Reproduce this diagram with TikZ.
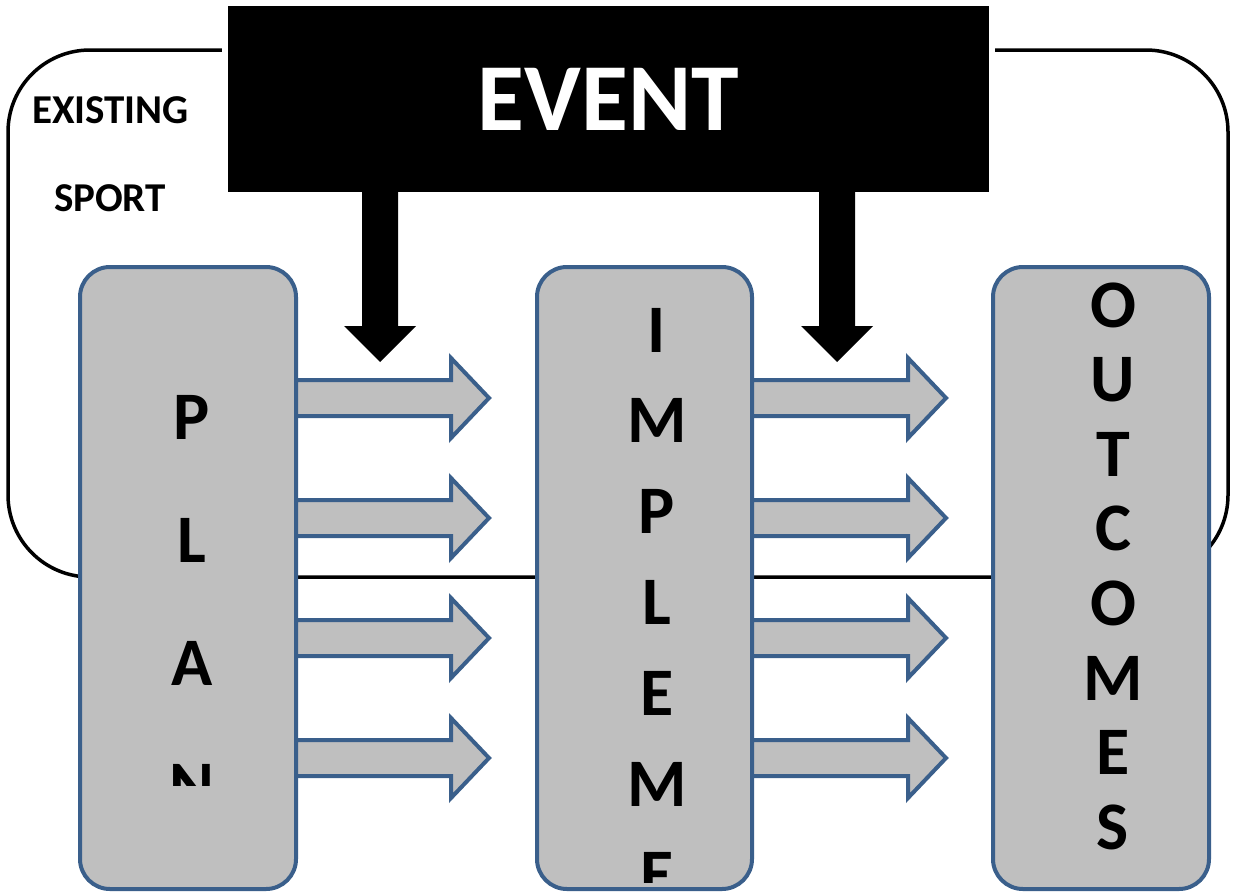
\documentclass[tikz,border=0pt]{standalone}
\usepackage{fontspec}
\setmainfont{Carlito}
\definecolor{boxblue}{HTML}{3A5F8B}
\definecolor{boxgray}{HTML}{BFBFBF}
\begin{document}
\begin{tikzpicture}[x=1pt,y=-1pt,
  outerbox/.style={draw=black,line width=3.5pt,rounded corners=82pt,minimum width=1220pt,minimum height=527pt,inner sep=0pt,outer sep=0pt},
  eventbox/.style={fill=black,minimum width=761pt,minimum height=186pt,inner sep=0pt,outer sep=0pt,text=white,font=\bfseries\fontsize{96}{96}\selectfont},
  stagebox/.style={draw=boxblue,fill=boxgray,line width=4pt,rounded corners=30pt,minimum height=622pt,inner sep=0pt,outer sep=0pt},
  letter/.style={font=\bfseries\fontsize{68}{68}\selectfont,inner sep=0pt},
  sidelabel/.style={font=\bfseries\fontsize{41}{41}\selectfont,inner sep=0pt},
  blockarrow/.style={draw=boxblue,fill=boxgray,line width=4pt,line join=miter},
  downarrow/.style={fill=black}]
\useasboundingbox (0,0) rectangle (1233,894);
\fill[white] (0,0) rectangle (1233,894);
% existing sport frame
\node[outerbox] (sport) at (618,313.5) {};
\node[sidelabel] (existing) at (110.5,110) {EXISTING};
\node[sidelabel] (sportlbl) at (110,198) {SPORT};
% event
\fill[white] (222,0) rectangle (995,198);
\node[eventbox] (event) at (608.5,99) {EVENT};
% down arrows
\coordinate (d1) at (380,362);
\coordinate (d2) at (837,362);
\fill[downarrow] (event.south -| 362,0) -- (362,326) -- (344,326) -- (d1) -- (416,326) -- (398,326) -- (398,192) -- cycle;
\fill[downarrow] (event.south -| 819,0) -- (819,326) -- (801,326) -- (d2) -- (873,326) -- (855,326) -- (855,192) -- cycle;
% stage boxes
\node[stagebox,minimum width=216pt] (plan) at (188,578) {};
\node[stagebox,minimum width=215pt] (implement) at (644.5,578) {};
\node[stagebox,minimum width=216pt] (outcomes) at (1101,578) {};
% letters
\begin{scope}
  \clip (0,0) rectangle (1233,785);
  \foreach \l [count=\i from 0] in {P,L,A,N}
    \node[letter] (plan\i) at (192,{417+123*\i}) {\l};
\end{scope}
\begin{scope}
  \clip (0,0) rectangle (1233,882);
  \foreach \l [count=\i from 0] in {I,M,P,L,E,M,E}
    \node[letter] (impl\i) at (657,{330+90.8*\i}) {\l};
\end{scope}
\foreach \l [count=\i from 0] in {O,U,T,C,O,M,E,S}
  \node[letter] (outc\i) at (1113,{305+74.6*\i}) {\l};
% block arrows
\foreach \y in {398,518,638,758} {
  \draw[blockarrow] (plan.east) ++(0,{\y-578-18}) -- ++(155,0) -- ++(0,-22) -- ++(38,40) -- ++(-38,40) -- ++(0,-22) -- ++(-155,0) -- cycle;
  \draw[blockarrow] (implement.east) ++(0,{\y-578-18}) -- ++(156,0) -- ++(0,-22) -- ++(38,40) -- ++(-38,40) -- ++(0,-22) -- ++(-156,0) -- cycle;
}
\end{tikzpicture}
\end{document}
